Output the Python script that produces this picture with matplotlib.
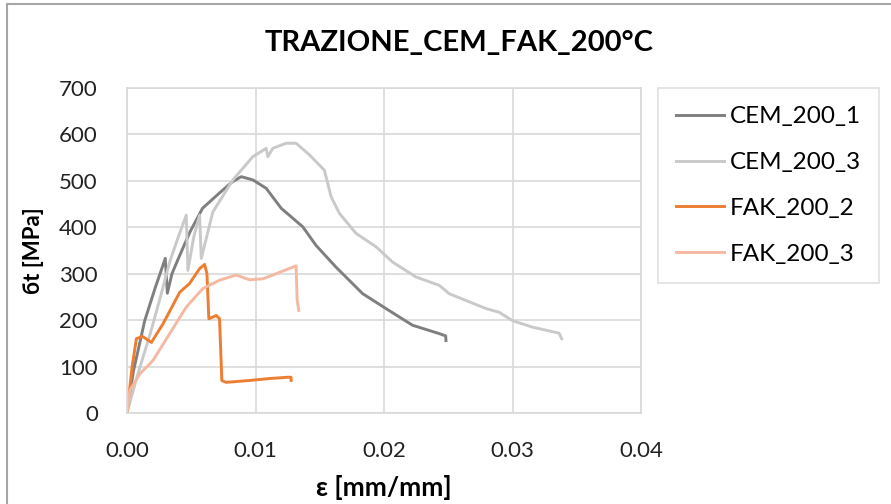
import matplotlib.pyplot as plt
from matplotlib.patches import Rectangle

# strain [mm/mm] and stress [MPa]
cem1_x = [0.0, 0.0005, 0.00138, 0.0022, 0.00298, 0.00314, 0.0035, 0.00394, 0.0049, 0.00588, 0.0072, 0.0082,
          0.00889, 0.0098, 0.01083, 0.012, 0.01368, 0.01471, 0.01627, 0.01834, 0.02015, 0.02222, 0.0243, 0.0248, 0.02482]
cem1_y = [0, 90, 199, 270, 333, 258, 300, 329, 390, 441, 474, 498,
          509, 502, 484, 441, 401, 361, 314, 257, 225, 189, 171, 166, 156]

cem3_x = [0.0, 0.0008, 0.0018, 0.0026, 0.00332, 0.0040, 0.00461, 0.00474, 0.0052, 0.00565, 0.00578, 0.00668,
          0.00824, 0.00979, 0.01083, 0.01096, 0.01134, 0.01238, 0.01316, 0.0142, 0.01536, 0.01588, 0.01653,
          0.01782, 0.01938, 0.02067, 0.02249, 0.0243, 0.02507, 0.02793, 0.02896, 0.02999, 0.03155, 0.03362, 0.03383]
cem3_y = [0, 80, 170, 250, 325, 380, 426, 307, 380, 426, 333, 433,
          502, 552, 570, 552, 570, 581, 581, 556, 523, 466, 430,
          387, 358, 325, 293, 275, 257, 225, 217, 199, 185, 172, 160]

fak2_x = [0.0, 0.0004, 0.00073, 0.0012, 0.0019, 0.0028, 0.0041, 0.00487, 0.00565, 0.00604, 0.00622, 0.00637,
          0.00695, 0.0072, 0.00738, 0.00772, 0.0095, 0.011, 0.0125, 0.01277, 0.01277]
fak2_y = [0, 100, 160, 165, 152, 192, 260, 279, 311, 320, 300, 203,
          210, 203, 70, 66, 70, 74, 77, 77, 70]

fak3_x = [0.0, 0.00021, 0.00099, 0.00202, 0.00332, 0.00461, 0.0059, 0.0072, 0.0085, 0.00953, 0.01057, 0.01161,
          0.01316, 0.01324, 0.01337]
fak3_y = [0, 48, 84, 113, 171, 228, 268, 286, 297, 287, 289, 300,
          317, 243, 221]

series = [
    ("CEM_200_1", cem1_x, cem1_y, "#7f7f7f"),
    ("CEM_200_3", cem3_x, cem3_y, "#c9c9c9"),
    ("FAK_200_2", fak2_x, fak2_y, "#ed7d31"),
    ("FAK_200_3", fak3_x, fak3_y, "#f4b9a2"),
]

x_ticks = [0.0, 0.01, 0.02, 0.03, 0.04]
y_ticks = [0, 100, 200, 300, 400, 500, 600, 700]

plt.rcParams['font.family'] = ['Lato', 'DejaVu Sans']

fig = plt.figure(figsize=(8.91, 5.04), dpi=100)
ax = fig.add_axes([127 / 891, 1 - 413 / 504, 514 / 891, 325 / 504])

for name, xs, ys, col in series:
    ax.plot(xs, ys, color=col, linewidth=2.1, label=name, solid_joinstyle='round')

ax.set_xlim(0, 0.04)
ax.set_ylim(0, 700)
ax.set_xticks(x_ticks)
ax.set_yticks(y_ticks)
ax.set_xticklabels([f"{t:.2f}" for t in x_ticks])
ax.tick_params(axis='both', length=0, labelsize=16, colors='#222222')
ax.tick_params(axis='x', pad=20)
ax.tick_params(axis='y', pad=21)
ax.grid(True, color='#d9d9d9', linewidth=1.2)
ax.set_axisbelow(True)
for s in ax.spines.values():
    s.set_color('#d9d9d9')
    s.set_linewidth(1.2)

ax.set_xlabel("ε [mm/mm]", fontsize=19, fontweight='bold')
ax.xaxis.set_label_coords(0.5, (413 - 488) / 325)
ax.xaxis.label.set_va('center')
ax.set_ylabel("бt [MPa]", fontsize=16, fontweight='bold')
ax.yaxis.set_label_coords((34 - 127) / 514, 0.5)
ax.yaxis.label.set_va('center')

fig.text(0.515, 1 - 43 / 504, "TRAZIONE_CEM_FAK_200°C", fontsize=21, fontweight='bold',
         ha='center', va='center')

leg = fig.legend(loc='upper left', bbox_to_anchor=(658 / 891, 1 - 88 / 504), fontsize=17.5,
                 frameon=True, fancybox=False, handlelength=1.95, handletextpad=0.25,
                 labelspacing=1.02, borderpad=0.75, borderaxespad=0)
leg.get_frame().set_edgecolor('#d9d9d9')
leg.get_frame().set_linewidth(1.2)

# chart border (cropped on the right and bottom)
fig.patches.append(Rectangle((7 / 891, -0.1), 2.0, 1.1 - 4 / 504, transform=fig.transFigure,
                             fill=False, edgecolor='#a6a6a6', linewidth=1.5))

fig.savefig("out.png", dpi=100)
